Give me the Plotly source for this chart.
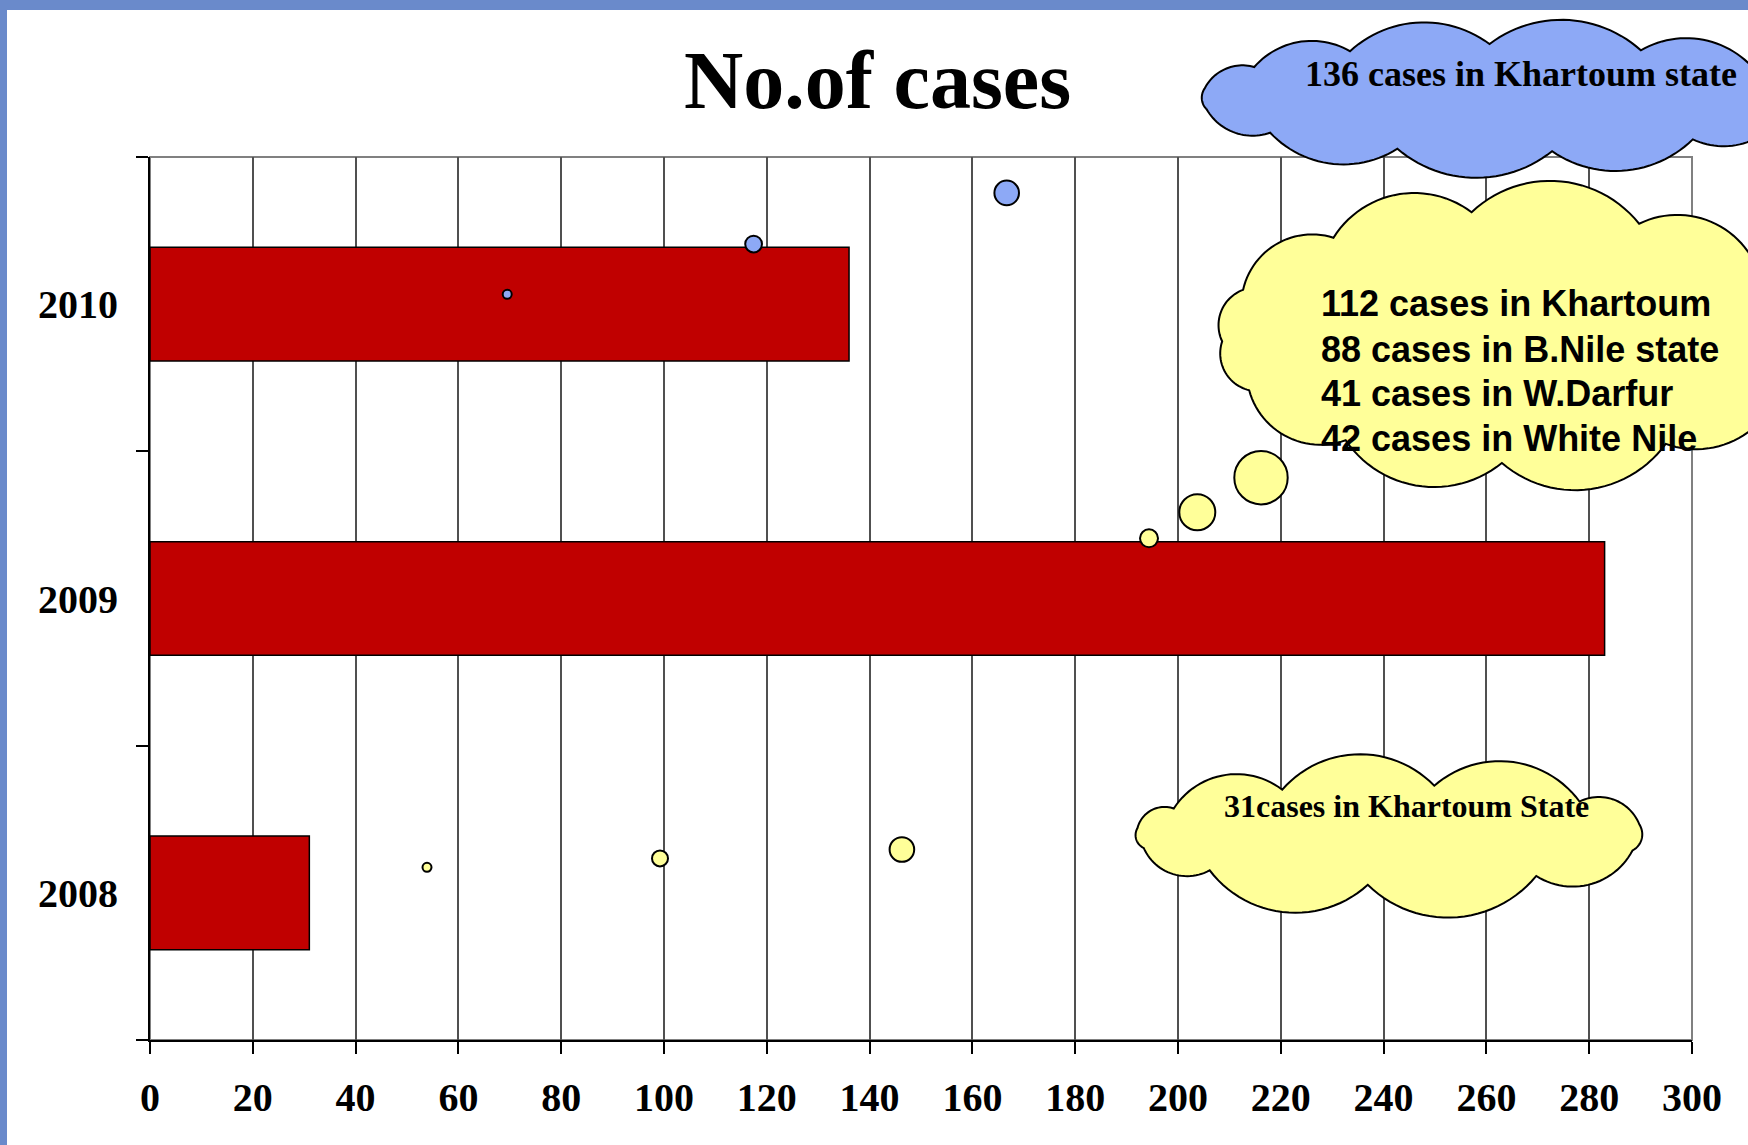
import numpy as np
import plotly.graph_objects as go

# ---------------- data ----------------
years = ["2008", "2009", "2010"]
cases = [31, 283, 136]
x_ticks = list(range(0, 301, 20))
title_text = "No.of cases"
note_2010 = "136 cases in Khartoum state"
regions_2009 = ["Khartoum", "B.Nile state", "W.Darfur", "White Nile"]
counts_2009 = [112, 88, 41, 42]
note_2008 = "31cases in Khartoum State"

# ---------------- geometry helpers (pixel -> paper) ----------------
W, H = 1748, 1145
L, R, T, B = 150, 1692, 157, 1040


def px(x):
    return (x - L) / (R - L)


def py(y):
    return (B - y) / (B - T)


def cloud_path(cx, cy, rx, ry, knots_deg, k=0.22):
    angs = np.radians(knots_deg)
    P = [np.array([cx + rx * np.cos(a), cy + ry * np.sin(a)]) for a in angs]
    n = len(P)
    pts = []
    for i in range(n):
        p0, p1 = P[i], P[(i + 1) % n]
        m = (p0 + p1) / 2
        d = p1 - p0
        c = np.hypot(d[0], d[1])
        nrm = np.array([d[1], -d[0]]) / c
        if np.dot(nrm, m - np.array([cx, cy])) < 0:
            nrm = -nrm
        h = k * c
        Rr = (c * c / 4 + h * h) / (2 * h)
        O = m + nrm * (h - Rr)
        a0 = np.arctan2(p0[1] - O[1], p0[0] - O[0])
        a1 = np.arctan2(p1[1] - O[1], p1[0] - O[0])
        delta = (a1 - a0 + np.pi) % (2 * np.pi) - np.pi
        for t in np.linspace(0, 1, 28):
            a = a0 + delta * t
            pts.append((O[0] + Rr * np.cos(a), O[1] + Rr * np.sin(a)))
    s = "M " + " L ".join(f"{px(x):.5f},{py(y):.5f}" for x, y in pts) + " Z"
    return s


def circle(cx, cy, r, fill):
    return dict(type="circle", xref="paper", yref="paper",
                x0=px(cx - r), x1=px(cx + r), y0=py(cy + r), y1=py(cy - r),
                fillcolor=fill, line=dict(color="black", width=2), layer="above")


BLUE = "#8DA9F6"
YELLOW = "#FFFF99"

fig = go.Figure()
fig.add_trace(go.Bar(
    y=years, x=cases, orientation="h",
    marker=dict(color="#C00000", line=dict(color="black", width=1.5)),
    hoverinfo="x+y",
))

shapes = []
# page border (top and left)
shapes.append(dict(type="rect", xref="paper", yref="paper", x0=px(0), x1=px(7), y0=py(H), y1=py(0),
                   fillcolor="#6a8acb", line=dict(width=0), layer="below"))
shapes.append(dict(type="rect", xref="paper", yref="paper", x0=px(0), x1=px(W), y0=py(10), y1=py(0),
                   fillcolor="#6a8acb", line=dict(width=0), layer="below"))
# plot frame (gray)
shapes.append(dict(type="rect", xref="paper", yref="paper", x0=0, x1=1, y0=0, y1=1,
                   line=dict(color="#808080", width=2), layer="below"))

# clouds
shapes.append(dict(type="path", xref="paper", yref="paper",
                   path=cloud_path(1500, 98, 300, 54,
                                   [-10, 20, 50, 80, 110, 140, 168, 190, 215, 240, 268, 298, 328],
                                   k=0.18),
                   fillcolor=BLUE, line=dict(color="black", width=2), layer="above"))
shapes.append(dict(type="path", xref="paper", yref="paper",
                   path=cloud_path(1512, 337, 290, 126,
                                   [-10, 22, 58, 92, 125, 155, 178, 202, 232, 262, 296, 328]),
                   fillcolor=YELLOW, line=dict(color="black", width=2), layer="above"))
shapes.append(dict(type="path", xref="paper", yref="paper",
                   path=cloud_path(1390, 835, 255, 50,
                                   [-12, 18, 55, 95, 135, 165, 188, 212, 245, 280, 318]),
                   fillcolor=YELLOW, line=dict(color="black", width=2), layer="above"))

# callout tail bubbles
shapes += [
    circle(1006.7, 192.9, 12.3, BLUE),
    circle(753.6, 244.1, 8.4, BLUE),
    circle(507.2, 294.3, 4.5, BLUE),
    circle(1261, 477.7, 26.7, YELLOW),
    circle(1197.3, 512.3, 18, YELLOW),
    circle(1149, 538.3, 9, YELLOW),
    circle(901.9, 849.5, 12.3, YELLOW),
    circle(660, 858.4, 8, YELLOW),
    circle(427, 867.3, 4.5, YELLOW),
]

serif = "Liberation Serif"
sans = "Liberation Sans"
annotations = [
    dict(text=title_text, x=px(877), y=py(80), xref="paper", yref="paper", showarrow=False,
         xanchor="center", yanchor="middle",
         font=dict(family=serif, size=82, color="black", weight="bold")),
    dict(text=note_2010, x=px(1521), y=py(74), xref="paper", yref="paper", showarrow=False,
         xanchor="center", yanchor="middle",
         font=dict(family=serif, size=36, color="black", weight="bold")),
    dict(text=note_2008, x=px(1406), y=py(806), xref="paper", yref="paper", showarrow=False,
         xanchor="center", yanchor="middle",
         font=dict(family=serif, size=32, color="black", weight="bold")),
]
line_y = [303, 349, 393.5, 438]
for reg, cnt, yy in zip(regions_2009, counts_2009, line_y):
    annotations.append(dict(text=f"{cnt} cases in {reg}", x=px(1319), y=py(yy), xref="paper", yref="paper",
                            showarrow=False, xanchor="left", yanchor="middle",
                            font=dict(family=sans, size=36, color="black", weight="bold")))

fig.update_layout(
    width=W, height=H,
    margin=dict(l=L, r=W - R, t=T, b=H - B, pad=0),
    paper_bgcolor="white", plot_bgcolor="white",
    showlegend=False,
    bargap=0.614,
    shapes=shapes,
    annotations=annotations,
    xaxis=dict(
        range=[0, 300], tickvals=x_ticks, ticktext=[str(v) for v in x_ticks],
        showgrid=True, gridcolor="#505050", gridwidth=1.5,
        showline=True, linecolor="black", linewidth=2,
        ticks="outside", ticklen=12, tickwidth=1.5, tickcolor="black",
        ticklabelstandoff=9,
        tickfont=dict(family=serif, size=40, color="black", weight="bold"),
        zeroline=False, fixedrange=True,
    ),
    yaxis=dict(
        type="category", categoryorder="array", categoryarray=years,
        showgrid=False, showline=True, linecolor="black", linewidth=2,
        ticks="outside", tickson="boundaries", ticklen=12, tickwidth=1.5, tickcolor="black",
        ticklabelstandoff=22,
        tickfont=dict(family=serif, size=40, color="black", weight="bold"),
        fixedrange=True,
    ),
)

fig.write_html("out.html", config={"displayModeBar": False},
               post_script="document.body.style.margin='0';")
